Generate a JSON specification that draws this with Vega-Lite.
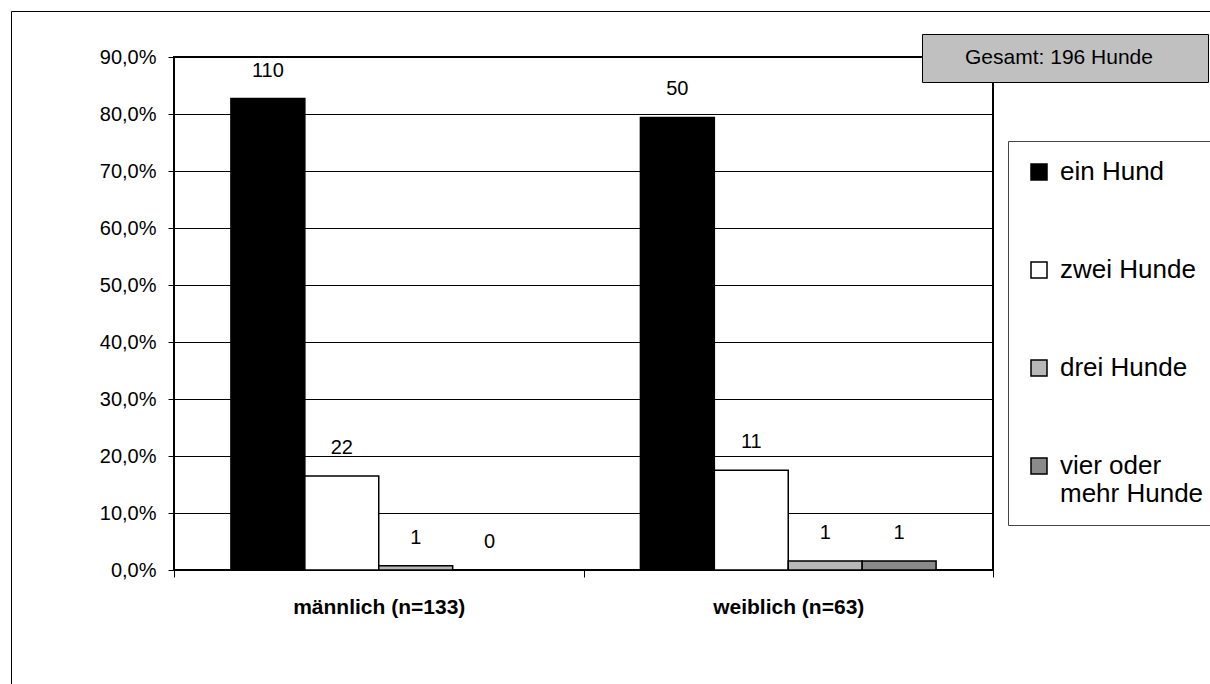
{
  "$schema": "https://vega.github.io/schema/vega-lite/v6.json",
  "width": 819,
  "height": 513,
  "autosize": {"type": "none"},
  "padding": {"left": 174, "top": 57, "right": 217, "bottom": 114},
  "background": "white",
  "config": {
    "font": "Liberation Sans",
    "view": {"stroke": "black", "strokeWidth": 2},
    "axis": {"labelColor": "black", "labelFont": "Liberation Sans"}
  },
  "layer": [
    {
      "data": {
        "values": [
          {"gruppe": "männlich (n=133)", "anzahl": "ein Hund", "anteil": 0.827, "n": 110},
          {"gruppe": "männlich (n=133)", "anzahl": "zwei Hunde", "anteil": 0.165, "n": 22},
          {"gruppe": "männlich (n=133)", "anzahl": "drei Hunde", "anteil": 0.0075, "n": 1},
          {"gruppe": "männlich (n=133)", "anzahl": "vier oder mehr Hunde", "anteil": 0, "n": 0},
          {"gruppe": "weiblich (n=63)", "anzahl": "ein Hund", "anteil": 0.794, "n": 50},
          {"gruppe": "weiblich (n=63)", "anzahl": "zwei Hunde", "anteil": 0.175, "n": 11},
          {"gruppe": "weiblich (n=63)", "anzahl": "drei Hunde", "anteil": 0.016, "n": 1},
          {"gruppe": "weiblich (n=63)", "anzahl": "vier oder mehr Hunde", "anteil": 0.016, "n": 1}
        ]
      },
      "encoding": {
        "x": {
          "field": "gruppe", "type": "nominal", "sort": null,
          "scale": {"paddingInner": 0, "paddingOuter": 0},
          "axis": {
            "title": null, "labelAngle": 0, "tickBand": "extent", "tickSize": 7,
            "tickColor": "black", "domain": false, "grid": false,
            "labelFontSize": 21, "labelFontWeight": "bold", "labelPadding": 19
          }
        },
        "xOffset": {
          "field": "anzahl", "type": "nominal",
          "sort": ["ein Hund", "zwei Hunde", "drei Hunde", "vier oder mehr Hunde"],
          "scale": {"paddingInner": 0, "paddingOuter": 0.77}
        },
        "y": {
          "field": "anteil", "type": "quantitative",
          "scale": {"domain": [0, 0.9], "nice": false},
          "axis": {
            "title": null, "values": [0, 0.1, 0.2, 0.3, 0.4, 0.5, 0.6, 0.7, 0.8, 0.9],
            "labelExpr": "replace(format(datum.value, '.1%'), '.', ',')",
            "grid": true, "gridColor": "black", "gridWidth": 1, "gridOpacity": 1,
            "domain": false, "tickColor": "black", "tickSize": 6,
            "labelPadding": 12, "labelFontSize": 20
          }
        }
      },
      "layer": [
        {
          "mark": {"type": "bar", "stroke": "black", "strokeWidth": 1.5},
          "encoding": {
            "fill": {
              "field": "anzahl", "type": "nominal",
              "sort": ["ein Hund", "zwei Hunde", "drei Hunde", "vier oder mehr Hunde"],
              "scale": {
                "domain": ["ein Hund", "zwei Hunde", "drei Hunde", "vier oder mehr Hunde"],
                "range": ["#000000", "#ffffff", "#b8b8b8", "#8a8a8a"]
              },
              "legend": {
                "orient": "none", "legendX": 834, "legendY": 84, "title": null,
                "strokeColor": "#444444", "fillColor": "white", "padding": 18,
                "symbolType": "square", "symbolSize": 256,
                "symbolStrokeColor": "black", "symbolStrokeWidth": 1.5,
                "labelFontSize": 26, "labelColor": "black", "labelOffset": 8,
                "rowPadding": 72, "labelLimit": 300,
                "labelExpr": "datum.label == 'vier oder mehr Hunde' ? ['vier oder', 'mehr Hunde'] : datum.label"
              }
            }
          }
        },
        {
          "mark": {"type": "text", "baseline": "bottom", "dy": -18, "fontSize": 20, "color": "black"},
          "encoding": {"text": {"field": "n", "type": "quantitative"}}
        }
      ]
    },
    {
      "data": {"values": [{"gesamt": 196, "rahmen": 1}]},
      "mark": {"type": "point", "filled": true, "opacity": 0},
      "encoding": {
        "color": {
          "field": "gesamt", "type": "quantitative",
          "scale": {"domain": [0, 196], "range": ["#c0c0c0", "#c0c0c0"]},
          "legend": {
            "orient": "none", "legendX": 748, "legendY": -23, "direction": "horizontal",
            "title": "Gesamt: 196 Hunde", "titleFontSize": 21, "titleFontWeight": "normal",
            "titleFont": "Liberation Sans", "titleColor": "black", "titleAnchor": "middle",
            "titlePadding": 0, "titleLimit": 400,
            "fillColor": "#c0c0c0", "strokeColor": "black", "padding": 13,
            "gradientLength": 260, "gradientThickness": 1, "gradientOpacity": 0,
            "gradientStrokeWidth": 0, "values": [], "labelExpr": "''",
            "labelFontSize": 1, "labelOpacity": 0, "labelOffset": 0
          }
        },
        "stroke": {
          "field": "rahmen", "type": "quantitative",
          "scale": {"domain": [0, 1], "range": ["#ffffff", "#ffffff"]},
          "legend": {
            "orient": "none", "legendX": -163, "legendY": -46, "direction": "horizontal",
            "title": null, "strokeColor": "black", "padding": 0,
            "gradientLength": 1300, "gradientThickness": 720, "gradientOpacity": 0,
            "gradientStrokeWidth": 0, "values": [], "labelExpr": "''",
            "labelFontSize": 1, "labelOpacity": 0, "labelOffset": 0
          }
        }
      }
    }
  ]
}
